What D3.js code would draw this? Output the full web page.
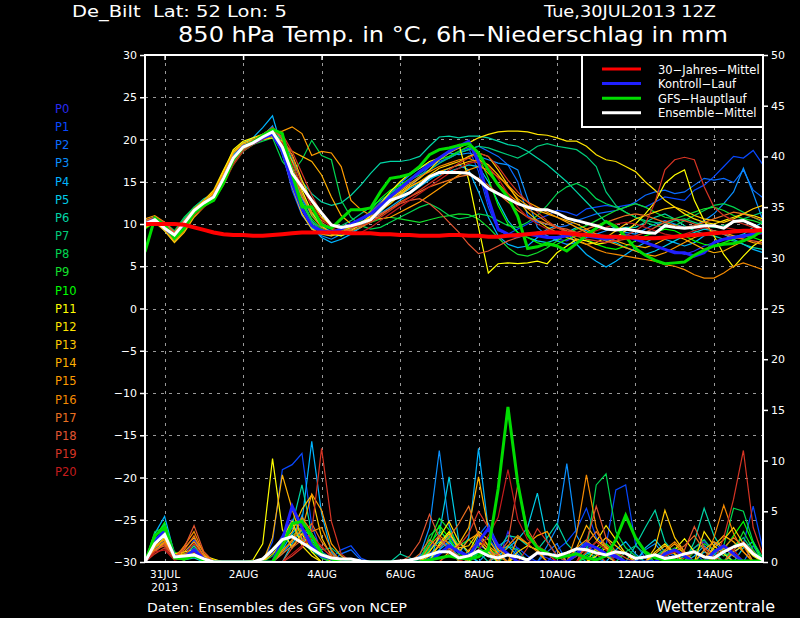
<!DOCTYPE html>
<html>
<head>
<meta charset="utf-8">
<script src="https://cdn.jsdelivr.net/npm/d3@7"></script>
<style>
  body { margin: 0; background: #000; }
  svg text { font-family: "DejaVu Sans", sans-serif; fill: #fff; }
</style>
</head>
<body>
<svg id="chart" width="800" height="618"></svg>
<script>
// run start Tue 30JUL2013 12Z, one value every 6 hours
const hours = d3.range(0, 379, 6);

const dateLabels = ["31JUL", "2AUG", "4AUG", "6AUG", "8AUG", "10AUG", "12AUG", "14AUG"];
const dateHours = [12, 60, 108, 156, 204, 252, 300, 348];
const tempTicks = [-30, -25, -20, -15, -10, -5, 0, 5, 10, 15, 20, 25, 30];
const precipTicks = [0, 5, 10, 15, 20, 25, 30, 35, 40, 45, 50];

const memberNames = ["P0","P1","P2","P3","P4","P5","P6","P7","P8","P9","P10",
  "P11","P12","P13","P14","P15","P16","P17","P18","P19","P20"];
const memberColors = ["#2a2af0","#0848ff","#0a6cff","#0a90ff","#00b4ff","#00cce6","#00d6a6",
  "#00cc7a","#00d650","#12e02c","#00ff00","#ffff00","#ffe400","#ffc800","#ffb000",
  "#ff9c00","#f48a00","#ea7020","#e25430","#d63424","#c41c1c"];

// 850 hPa temperature (°C)
const climTemp = [10.0,10.0,10.0,10.0,9.9,9.6,9.3,9.0, 8.8,8.7,8.7,8.6,8.6,8.7,8.8,8.9,
  9.0,9.0,9.0,9.0,9.0,8.9,8.9,8.9, 8.8,8.8,8.7,8.7,8.6,8.6,8.6,8.7,
  8.7,8.6,8.6,8.5,8.5,8.6,8.7,8.8, 8.9,9.0,9.0,8.9,8.8,8.7,8.6,8.5,
  8.5,8.4,8.4,8.3,8.3,8.4,8.5,8.6, 8.7,8.8,8.9,9.0,9.1,9.2,9.2,9.3];
const meanTemp = [10.0,10.5,9.5,8.7,10.1,11.6,12.5,13.2, 15.4,17.8,19.1,19.6,20.3,20.9,19.1,16.0,
  14.4,12.8,11.3,9.9,9.6,9.8,10.1,10.5, 11.7,12.8,13.2,13.7,14.6,15.6,16.1,16.1,
  16.1,16.0,15.2,14.2,13.6,13.0,12.4,12.0, 11.7,11.7,11.3,10.7,10.4,10.1,9.8,9.4,
  9.3,9.4,9.2,9.0,8.9,9.8,9.6,9.5, 9.6,9.8,9.8,9.5,10.3,10.4,9.9,9.3];
const gfsTemp = [6.7,10.7,9.9,8.3,9.5,11.3,12.2,12.8, 14.8,17.6,19.1,19.7,20.5,21.2,20.7,16.0,
  12.0,12.0,9.9,9.5,10.6,11.7,11.7,11.9, 13.8,15.4,15.6,15.9,16.8,18.2,18.8,19.0,
  19.3,19.5,18.4,16.4,14.6,13.2,10.9,7.1, 7.3,7.7,7.4,6.8,7.7,8.7,9.5,10.3,
  9.7,8.5,7.1,6.3,5.7,5.3,5.4,5.5, 6.3,6.9,7.4,7.6,7.7,8.0,8.5,9.3];
const ctrlTemp = [10.0,10.6,9.6,8.4,9.8,11.4,12.4,13.2, 15.4,17.8,19.2,19.6,20.2,20.6,18.6,14.8,
  11.8,9.8,9.2,9.0,9.4,10.0,10.6,11.2, 12.2,13.2,14.2,15.2,16.2,17.0,17.8,18.6,
  19.2,19.8,17.4,13.0,9.4,8.8,8.6,8.8, 8.6,8.4,8.4,8.6,8.8,8.6,8.4,8.2,
  8.4,8.6,8.2,7.8,7.4,7.0,6.6,6.6, 6.2,6.6,7.8,8.2,8.4,8.6,8.8,9.0];

const tP0 = [10.2,10.6,9.6,8.4,9.8,11.4,12.3,13.0, 15.2,17.6,19.0,19.8,20.4,21.0,19.5,15.2,
  12.6,10.2,9.6,9.2,9.4,9.8,10.2,10.8, 11.8,12.9,13.5,14.2,15.6,16.8,17.6,18.4,
  19.2,19.6,17.0,12.6,9.4,8.6,8.4,8.8, 9.0,8.6,8.2,8.0,8.6,9.0,8.8,8.4,
  8.6,8.8,8.4,7.8,7.4,7.0,6.8,6.4, 6.8,7.4,7.8,8.2,8.6,8.4,8.8,9.0];
const tP1 = [9.8,10.4,9.4,8.2,9.6,11.2,12.4,13.4, 15.8,18.0,19.4,19.8,20.6,21.2,18.6,14.0,
  11.0,9.6,9.0,8.8,9.2,9.8,10.6,11.4, 12.6,13.4,14.0,14.8,15.6,16.4,17.2,18.0,
  18.6,19.0,16.2,12.0,9.2,8.8,9.4,10.0, 10.6,11.0,11.6,11.4,11.0,11.8,12.0,12.2,
  12.0,12.2,12.4,12.0,12.6,13.2,13.0,12.8, 14.0,14.6,15.6,16.8,18.0,17.8,18.7,17.0];
const tP2 = [10.0,10.6,9.8,8.8,10.4,11.8,12.6,13.2, 15.0,17.4,18.8,19.4,20.2,20.8,19.4,16.4,
  13.0,10.4,9.0,8.6,9.0,9.4,9.8,10.6, 11.6,12.8,14.0,15.2,16.0,16.8,17.4,17.8,
  18.4,18.8,19.2,18.6,18.0,17.0,15.0,11.0, 10.2,10.0,9.6,9.8,10.4,10.8,11.2,11.4,
  11.6,12.0,12.6,13.4,13.8,14.0,13.6,13.8, 14.6,15.4,15.2,15.4,14.9,16.4,14.0,13.1];
const tP3 = [10.4,10.8,9.8,8.6,10.0,11.6,12.4,13.0, 15.4,17.8,19.2,19.8,20.4,21.6,18.2,14.4,
  11.2,9.4,8.6,8.2,8.8,9.4,10.2,11.0, 12.2,13.6,14.8,15.8,16.6,17.2,17.8,18.4,
  18.2,18.4,18.0,17.6,17.2,17.0,16.4,13.0, 9.6,8.6,8.0,7.6,7.8,8.4,8.8,9.2,
  9.6,9.0,8.8,9.4,10.0,10.4,10.0,9.6, 9.8,10.4,11.2,12.4,13.8,16.6,13.6,10.4];
const tP4 = [10.0,10.4,9.2,7.9,9.4,11.2,12.2,13.2, 15.6,18.2,19.6,20.2,21.4,22.8,18.8,15.0,
  12.0,9.6,8.4,7.8,8.2,8.8,9.6,10.4, 11.2,12.0,12.8,13.6,14.4,15.2,16.0,16.6,
  17.0,16.4,13.8,10.8,8.6,7.6,7.2,7.4, 8.4,9.4,9.8,9.0,7.6,6.4,5.6,4.9,
  5.6,6.4,7.2,7.8,8.4,8.2,7.8,7.4, 7.8,8.6,9.2,8.8,8.2,7.6,7.0,6.6];
const tP5 = [9.6,10.2,9.6,8.4,9.8,11.6,12.6,13.4, 15.0,17.2,18.6,19.4,20.0,20.6,19.0,15.8,
  13.2,11.0,9.8,9.0,8.6,9.0,9.6,10.4, 11.4,12.6,13.4,14.2,14.8,15.4,15.8,16.2,
  16.6,17.0,16.8,15.0,12.6,10.4,9.0,8.4, 8.0,7.8,8.2,9.0,9.6,9.2,8.6,8.0,
  7.8,7.2,6.8,6.4,6.8,7.4,8.0,8.6, 9.0,9.4,9.2,8.8,8.4,8.8,9.6,10.2];
const tP6 = [10.2,10.8,10.0,9.0,10.6,12.0,13.0,13.6, 15.8,18.4,19.6,20.0,20.6,21.4,20.2,17.6,
  15.0,13.6,12.6,12.2,12.5,13.4,14.6,16.0, 17.2,17.4,17.4,17.6,18.0,19.2,20.3,20.4,
  20.2,20.4,20.4,20.2,19.8,19.4,19.2,18.6, 17.8,17.0,16.0,15.0,13.8,12.6,11.4,10.2,
  9.4,9.6,9.6,10.2,10.8,11.2,10.6,9.8, 9.2,8.8,8.6,8.2,8.0,7.6,7.2,7.0];
const tP7 = [9.8,10.4,9.8,8.8,10.2,11.8,12.8,13.6, 15.6,17.8,19.0,19.6,20.4,21.0,19.8,16.8,
  13.6,11.2,10.0,9.6,9.8,10.4,11.2,12.0, 12.8,13.6,14.4,15.2,15.8,16.4,17.2,17.8,
  18.4,18.8,19.2,19.0,18.6,18.2,17.8,18.4, 19.2,19.5,19.2,19.0,18.8,18.0,16.8,13.8,
  12.2,11.4,10.8,10.4,10.2,10.0,10.4,10.6, 10.2,9.8,9.6,9.8,10.2,10.6,11.0,11.4];
const tP8 = [10.4,10.8,10.2,9.2,10.8,12.0,12.8,13.4, 15.2,17.4,18.8,19.4,19.8,20.2,17.4,16.0,
  17.6,19.9,18.1,17.6,12.8,10.8,9.8,9.4, 9.6,10.2,10.8,11.4,12.0,12.4,11.8,11.0,
  10.6,10.8,11.2,11.0,10.4,9.8,9.6,10.2, 11.0,12.2,13.6,14.4,14.8,14.2,13.0,12.4,
  12.0,11.4,10.8,10.2,9.8,9.6,9.8,10.4, 11.0,11.6,12.2,12.4,12.0,11.4,10.8,10.2];
const tP9 = [10.0,10.6,9.6,8.2,9.6,11.4,12.4,13.2, 15.4,17.6,19.2,19.8,20.4,21.2,19.2,15.6,
  12.4,10.2,9.2,8.8,9.0,9.4,9.8,10.2, 10.6,10.8,10.6,10.4,10.2,10.5,10.8,11.0,
  11.2,11.1,10.6,9.6,8.4,7.2,6.4,6.2, 6.6,7.2,8.0,8.8,9.4,9.8,10.4,11.0,
  11.6,12.0,12.4,12.0,11.4,10.8,10.6,11.0, 11.4,11.8,12.0,11.6,11.0,10.6,10.4,10.0];
const tP10 = [9.4,10.2,9.8,8.6,10.0,11.6,12.6,13.4, 15.0,17.0,18.6,19.4,20.2,20.8,19.0,15.8,
  12.6,10.6,9.4,9.0,9.2,9.6,10.4,11.6, 13.0,14.0,14.6,15.4,16.2,17.0,17.6,18.0,
  18.6,19.2,18.0,15.4,12.2,10.0,9.0,8.4, 7.8,7.4,7.6,8.2,8.6,8.2,7.6,7.2,
  7.0,7.4,8.0,8.6,9.0,9.4,9.2,8.6, 8.0,7.6,7.4,7.8,8.2,8.6,8.4,8.0];
const tP11 = [10.0,10.4,9.4,8.0,9.2,11.0,12.4,13.8, 16.2,18.8,19.8,20.2,20.6,20.8,19.6,17.4,
  14.0,11.4,9.8,8.8,8.6,9.2,10.0,11.0, 12.4,13.8,15.0,16.0,16.6,17.4,17.8,18.6,
  19.4,15.2,9.6,4.2,5.3,5.4,5.3,5.4, 5.6,5.3,6.6,7.4,8.2,8.0,7.6,7.8,
  8.4,9.2,10.0,11.2,12.6,14.8,15.8,16.4, 12.8,10.4,8.6,6.4,4.9,6.2,7.4,8.2];
const tP12 = [10.2,10.6,9.8,8.4,9.8,11.4,12.8,14.0, 16.4,18.6,19.4,19.8,20.0,20.2,19.8,18.2,
  15.2,12.6,10.8,9.8,9.6,10.0,10.6,11.4, 12.2,13.0,13.8,14.6,15.4,16.4,17.6,18.4,
  19.0,19.6,20.2,20.6,20.9,21.0,21.0,20.9, 20.6,20.5,20.2,19.8,19.8,19.2,18.2,17.6,
  17.4,16.8,16.2,15.0,14.0,12.8,12.0,11.2, 10.6,10.2,10.0,10.4,10.8,11.2,11.0,10.6];
const tP13 = [9.6,10.2,9.2,7.8,9.0,10.8,12.0,13.2, 15.6,18.6,19.6,20.0,20.4,20.6,18.4,14.4,
  11.2,9.4,8.8,8.6,9.0,9.6,10.2,10.8, 11.6,12.4,13.4,14.4,15.0,15.8,16.6,17.0,
  17.4,18.0,18.4,18.0,16.4,14.6,12.8,11.4, 10.4,9.6,9.0,8.4,8.0,7.6,7.8,8.4,
  9.2,10.0,10.6,11.0,11.4,11.8,12.0,11.6, 11.0,10.6,10.4,10.2,10.6,11.2,11.8,12.2];
const tP14 = [9.8,10.4,9.6,8.2,9.4,11.0,12.2,13.6, 15.8,18.0,19.2,19.6,20.0,20.4,19.6,18.6,
  18.0,17.4,15.8,13.2,11.0,10.0,9.6,10.4, 11.6,12.8,13.6,14.4,15.0,15.6,16.2,16.6,
  17.0,17.4,17.6,17.0,15.8,14.4,13.0,12.2, 11.6,11.2,10.8,10.4,10.0,9.4,8.8,8.4,
  8.0,7.6,7.4,7.2,7.6,8.2,8.6,8.2, 7.6,7.0,6.6,6.8,7.4,8.0,8.6,9.0];
const tP15 = [10.6,11.0,10.2,9.0,10.4,11.8,12.8,13.8, 16.0,18.4,19.4,19.8,20.4,20.8,21.0,21.5,
  20.7,18.1,18.6,18.4,16.8,12.8,11.7,11.0, 10.6,10.8,11.4,12.0,12.6,13.4,14.2,15.0,
  15.8,16.4,16.8,16.4,15.6,14.6,13.4,12.6, 12.0,11.4,10.8,10.2,9.6,9.0,8.4,8.0,
  7.6,7.2,6.8,6.4,6.2,6.6,7.2,7.8, 8.4,8.8,9.2,9.0,8.6,8.2,7.8,7.6];
const tP16 = [9.6,10.2,9.4,8.0,9.2,11.0,12.4,13.6, 15.6,17.8,19.0,19.6,20.2,20.8,19.2,16.6,
  13.6,11.0,9.6,9.0,9.2,9.8,10.6,11.4, 12.4,13.2,14.0,14.8,15.6,16.2,16.8,17.2,
  17.6,17.8,17.2,16.0,14.8,13.6,12.6,11.8, 11.0,10.2,9.6,9.0,8.2,7.6,7.0,6.6,
  6.4,6.2,6.0,5.8,5.6,5.2,5.0,4.6, 4.0,3.6,3.6,4.2,5.0,5.4,5.0,4.6];
const tP17 = [10.4,10.8,10.0,8.8,10.2,11.6,12.6,13.4, 15.2,17.6,19.0,20.0,20.6,21.4,20.0,16.2,
  13.2,11.4,10.4,9.8,9.4,9.2,9.6,10.2, 11.0,11.8,12.6,13.2,13.8,14.4,14.8,15.2,
  15.6,15.8,15.4,14.6,13.6,12.6,11.6,10.8, 10.4,10.0,9.6,9.2,9.0,9.4,9.8,10.2,
  10.6,11.0,11.2,11.0,10.6,10.2,9.8,9.6, 9.8,10.2,10.6,11.0,11.4,11.2,10.8,10.4];
const tP18 = [10.2,10.8,10.2,9.0,10.4,11.6,12.4,13.0, 14.8,17.2,18.8,19.6,20.2,21.0,20.4,18.0,
  14.8,12.0,10.2,9.4,9.0,9.4,10.0,10.6, 11.2,11.8,12.4,12.8,13.0,12.4,11.4,10.2,
  9.0,7.6,6.5,6.8,7.4,8.0,8.4,8.8, 9.0,9.2,9.6,9.4,9.0,8.6,8.4,8.2,
  8.0,8.2,8.6,9.0,9.6,10.2,10.6,10.4, 10.0,9.6,9.2,8.8,8.4,8.2,8.0,7.8];
const tP19 = [10.0,10.8,10.0,8.6,9.8,11.2,12.2,13.0, 15.0,17.4,19.0,19.8,20.6,21.4,20.6,18.6,
  16.0,13.4,11.2,10.0,9.6,9.6,9.8,10.2, 10.8,11.6,12.4,13.2,14.0,14.8,15.6,16.4,
  17.2,17.8,18.4,18.0,16.8,15.2,13.8,12.6, 11.4,10.4,9.6,9.0,8.6,8.2,8.0,7.8,
  8.0,8.6,9.2,10.0,12.6,16.4,17.6,17.9, 17.6,14.4,12.0,11.0,10.4,10.0,9.6,9.2];
const tP20 = [9.8,10.4,9.6,8.4,9.6,11.0,12.0,12.8, 14.6,17.0,18.6,19.4,20.0,20.6,19.6,17.2,
  14.4,12.2,10.6,9.6,9.0,8.8,9.0,9.6, 10.4,11.2,12.0,12.8,13.6,14.4,15.2,16.0,
  16.6,17.2,17.4,16.8,15.4,13.6,12.0,10.8, 10.0,9.4,9.0,8.8,8.6,8.8,9.2,9.6,
  10.0,10.2,10.0,9.6,9.2,8.8,8.6,8.8, 9.2,9.6,9.8,9.6,9.4,9.2,9.0,8.8];

// 6h precipitation (mm)
const meanPrecip = [0,1.8,2.7,0.5,0.6,0.7,0.3,0, 0,0,0,0,0.3,1.2,2.2,2.5,
  1.9,1.3,0.7,0.4,0.3,0.3,0.1,0, 0,0,0.1,0.2,0.4,0.7,1.0,1.0,
  0.4,0.6,1.1,0.6,0.4,0.7,0.5,0.2, 0.9,0.8,0.6,0.9,1.3,1.2,0.9,0.7,
  1.0,0.85,0.35,0.5,0.7,0.35,0.5,0.8, 1.0,0.5,0.4,1.0,1.5,1.8,0.8,0.2];
const gfsPrecip = [0,2.6,3.4,0.4,0.3,0.6,0.2,0, 0,0,0,0,0,0,1.6,3.8,
  4.0,2.6,0.8,0.3,0,0,0,0, 0,0,0,0,0,0.2,0.4,0.6,
  0.4,0.3,0.5,1.2,7.2,15.3,7.8,2.7, 1.4,0.9,0.4,0.6,0.8,0.4,0.2,0.6,
  2.2,4.6,2.4,1.0,0.4,0.2,0.2,0.1, 0.1,0.1,0.1,0.1,0.1,0.1,0.1,0.1];
const ctrlPrecip = [0,2.0,3.2,0.6,0.4,1.2,0.3,0, 0,0,0,0,0,0,2.2,5.5,
  3.4,1.6,0.6,0.3,0,0,0,0, 0,0,0,0,0,0,0.8,1.6,
  1.0,0.6,2.0,3.3,1.6,0.8,0,0, 0,0,0,0,0.8,1.8,1.4,0.8,
  0.6,0,0,0,0,0.8,1.2,0.6, 0,0,1.0,1.6,0.8,0,0,0];

const rP0 = [0,1.6,2.8,0.6,0.4,1.2,0.3,0, 0,0,0,0,0,1.0,2.6,4.2, 3.0,1.4,0.6,0.3,0,0,0,0,
  0,0,0,0,0.6,1.4,2.2,1.6, 0,0.8,1.6,1.2,0,3.0,1.2,0, 0.8,0.4,0,0,0.8,1.6,1.0,0.6,
  0.4,0,0,0,0.6,1.2,0.8,0, 1.4,2.0,1.2,0.6,1.0,1.6,0.8,0];
const rP1 = [0,2.0,3.4,0.8,0.6,2.2,0.6,0, 0,0,0,0,0,2.0,9.1,9.6, 10.7,3.6,1.0,0.4,1.2,1.6,0.4,0,
  0,0,0,0,0,0.8,1.6,2.4, 0,0,1.8,2.4,1.0,0,1.4,0.6, 0,0,1.2,2.0,3.2,5.3,2.4,1.6,
  7.1,7.6,1.8,0.4,0,0,0,0.6, 1.0,0,0,0,0.8,1.8,5.5,1.2];
const rP2 = [0,1.2,2.2,0.4,0.2,0.8,0.2,0, 0,0,0,0,0,0,1.6,3.4, 2.4,1.2,0.4,0,0.8,1.2,0.2,0,
  0,0,0,0,0,0.4,1.2,2.6, 1.2,0,2.6,3.8,1.6,2.2,0.8,0, 0,1.0,1.8,0,1.2,2.0,1.4,0.8,
  0,0,0,0,0.6,1.0,0.6,0, 0,1.2,2.0,1.0,0,0,1.6,0];
const rP3 = [0,2.4,3.8,0.6,0.3,0.6,0,0, 0,0,0,0,0,0,0.8,2.0, 4.6,2.2,0.8,0,0,0,0,0,
  0,0,0,0,0.6,3.4,11.0,3.6, 1.2,0.6,0,1.0,0.8,0,0,0, 0,1.6,3.4,9.7,2.6,1.0,0.4,0,
  0,0,0,1.2,1.8,0.6,0,0, 0,0,0.8,1.4,0.6,0,0,0];
const rP4 = [0,2.8,4.5,0.8,0.4,1.0,0.2,0, 0,0,0,0,0,0,1.2,2.8, 4.0,11.9,4.8,1.0,0,0,0,0,
  0,0,0,0,0,0,1.2,2.0, 0.8,2.4,11.2,3.2,1.0,1.6,0.6,0, 0,0,0,0,0.6,1.4,0.8,0,
  1.2,2.0,0.8,0,0,0,0,0, 0.6,1.6,0.8,0,0,0,0,0];
const rP5 = [0,2.2,3.2,0.5,0.2,0.4,0,0, 0,0,0,0,0,0,0,1.8, 3.2,2.6,1.0,0,0,0,0,0,
  0,0,0,0,0,0,2.8,8.4, 2.0,0.8,0,0,0.6,1.4,2.2,3.4, 6.8,2.0,0.6,0,0,0.8,1.2,0.6,
  0,0,0,1.4,2.2,1.0,0,0, 0,1.0,0.6,0,0,1.4,2.0,0];
const rP6 = [0,1.8,2.6,0.4,0.6,1.6,0.4,0, 0,0,0,0,0,0,1.4,3.6, 7.6,2.8,0.8,0.5,0.3,0,0,0,
  0,0,0.8,0.4,0,1.2,2.0,1.4, 0.6,0,1.0,0,1.2,2.6,2.4,1.6, 1.2,2.4,3.8,1.8,0.8,0,0,0,
  0,0,1.6,3.4,5.1,2.0,0.8,0, 2.0,5.3,2.6,1.0,0,0,0,0];
const rP7 = [0,2.6,3.6,0.6,0.3,0.8,0.2,0, 0,0,0,0,0,0,2.0,4.0, 3.0,1.6,1.2,1.4,0.6,0,0,0,
  0,0,0,0,0.4,1.8,3.0,2.2, 1.0,0.6,1.2,0.8,0,1.6,1.2,0, 0,0,0,0,0,0.4,1.0,0.8,
  0,1.0,1.6,0.8,0,0,0,0.6, 1.4,2.2,1.0,0,1.6,2.4,1.0,0];
const rP8 = [0,3.0,3.4,0.8,0.5,1.4,0.3,0, 0,0,0,0,0,0.6,2.4,3.6, 2.0,1.0,0.6,0,0,0,0,0,
  0,0,0,0,0,2.6,3.4,1.6, 0,0,1.2,0.8,0,0.8,0,0, 0,0,0,0,0,1.0,7.6,8.7,
  3.0,1.4,0.6,0,0,0,0,0, 0,0,0.8,1.6,5.3,5.0,2.0,0.4];
const rP9 = [0,2.0,3.0,0.4,0.2,0.6,0,0, 0,0,0,0,0,0,1.8,2.6, 3.4,1.8,0.4,0,0,0,0,0,
  0,0,0,0,0,2.0,4.3,3.2, 1.6,2.2,1.4,0.8,0,0,0,0, 0,0,0,0,0,0,0.8,1.6,
  1.0,0,0,0,0.6,1.2,0.8,0, 1.0,1.8,1.2,0.6,1.0,3.0,1.2,0];
const rP10 = [0,2.4,3.9,1.0,0.4,0.9,0.2,0, 0,0,0,0,0,0,2.4,3.8, 4.2,2.0,0.5,0,0,0,0,0,
  0,0,0,0,0,1.4,3.6,2.4, 0.8,0,0.8,1.4,0.6,0,0,0, 0,0,0,0,0,0.6,1.2,1.8,
  1.0,0,0,0,0,0.8,1.4,1.0, 0,0,0,1.2,2.6,4.0,1.8,0];
const rP11 = [0,1.4,2.4,0.8,1.0,1.2,0.6,0.3, 0,0,0,0.2,1.8,10.2,3.2,1.4, 2.8,1.0,0,0,0,0,0,0,
  0,0,0,0,0,0,1.8,3.0, 1.2,0,2.0,1.0,0,0,0.6,0, 0,0,0,0,0,0,0.6,1.4,
  0.8,0,0,0,0,0.6,1.2,2.3, 1.0,0.6,0,0,1.0,1.6,0.6,0];
const rP12 = [0,1.0,2.0,0.6,0.8,0.6,0.3,0, 0,0,0,0,0,1.2,2.4,4.0, 1.6,0.6,0,0,0,0,0,0,
  0,0,0,0,0,1.0,2.4,4.0, 2.0,1.0,2.8,1.6,0,0,0,0, 0,0,0,0,0,1.0,2.0,3.6,
  2.2,0.8,0,0,1.0,1.8,0.8,0, 0,3.0,1.6,0.8,0,0,0,0];
const rP13 = [0,1.8,2.6,0.4,0.2,0.8,0.4,0.2, 0,0,0,0,0,0.8,1.8,3.0, 5.2,6.6,2.4,0.6,0,0,0,0,
  0,0,0,0,0,0.6,1.6,2.8, 1.4,1.6,3.0,2.2,0.8,0,1.0,1.6, 1.2,0,0,0,0,0,1.4,2.4,
  1.6,0.8,0,0,1.4,5.1,2.4,1.0, 0,0,1.4,2.2,3.4,1.8,0,0];
const rP14 = [0,1.2,1.8,0.6,1.4,2.4,1.0,0, 0,0,0,0,0,2.4,8.6,5.2, 2.2,1.4,0.8,0,0,0,0,0,
  0,0,0,0,0,0,0,1.0, 1.8,3.4,8.4,3.2,1.2,0.6,0,0, 0,0,0,0,1.4,3.6,2.2,1.4,
  0.6,0,0,0,0.8,1.6,0.8,0, 0,0,1.6,2.6,2.0,1.0,0,0];
const rP15 = [0,1.6,2.2,0.4,1.0,2.0,0.6,0, 0,0,0,0,0,0,1.0,2.2, 3.2,6.7,5.1,1.8,0.6,0,0,0,
  0,0,0,0,0,0,0.8,1.4, 1.0,2.2,2.8,1.6,0.8,0,2.4,1.8, 2.6,3.0,1.2,0,1.4,2.2,1.2,0.6,
  0,0,0,0,0,1.0,1.8,0.8, 0,1.2,2.0,1.4,0.6,0,0,0];
const rP16 = [0,1.4,2.0,0.3,1.6,3.0,0.8,0, 0,0,0,0,0,0,1.2,2.0, 4.4,3.0,3.4,1.2,0,0,0,0,
  0,0,0,0,0,1.6,2.6,1.8, 0,1.2,2.0,1.4,0,1.6,2.6,1.8, 1.0,0,0,0,2.8,8.6,3.4,1.2,
  0.6,0,0,0,0,1.2,2.0,1.0, 0,0,2.4,5.6,2.8,1.0,0,0];
const rP17 = [0,1.2,1.6,0.5,1.2,2.6,0.4,0, 0,0,0,0,0,0,0.8,1.6, 2.6,3.8,2.0,0.8,0,0,0,0,
  0,0,0,0,0.8,2.2,1.4,2.4, 3.8,5.5,2.6,1.2,0.6,0,0,0, 0,0,0,0,0,1.8,3.0,1.6,
  0.8,0,0,0,0,0.6,1.0,1.6, 2.6,1.2,0,1.4,2.4,1.6,0,0];
const rP18 = [0,1.0,1.8,0.4,1.4,3.6,1.0,0, 0,0,0,0,0,0,0,1.4, 2.2,2.8,1.4,0.6,0,0,0,0,
  0,0,0,0.6,2.0,4.7,2.4,1.2, 0.6,0,0,0,0.8,2.0,7.6,3.2, 1.6,0.8,0,0,0,2.0,5.5,2.4,
  1.0,0.4,0,0,0,0,0,1.2, 3.5,1.4,0.6,0,1.2,2.0,1.0,0];
const rP19 = [0,0.8,1.4,0.3,0.6,1.8,0.4,0, 0,0,0,0,0,0,0,0.6, 1.4,3.0,11.2,4.0,0.8,0,0,0,
  0,0,0,0,0,0,0,0.8, 1.6,2.8,5.0,3.4,1.4,0.8,0,1.4, 3.3,2.0,0.6,0,0.6,1.2,0.8,0,
  0,0,0,0,0,0,0,0.4, 1.0,0.6,0,2.4,6.2,11.0,3.4,0.6];
const rP20 = [0,1.0,1.2,0.2,0.4,1.0,0.2,0, 0,0,0,0,0,0,0,0.8, 1.6,2.4,1.6,0.4,0,0,0,0,
  0,0,0,0,0,0,0,0, 0,0.6,1.2,2.6,4.4,9.1,4.2,2.2, 1.6,1.0,0,0,0,1.0,2.0,1.2,
  0,0,0,0,0,0.6,1.0,0.6, 0,0,1.0,1.6,1.2,0,0,0];

const memberTemp = [tP0,tP1,tP2,tP3,tP4,tP5,tP6,tP7,tP8,tP9,tP10,tP11,tP12,tP13,tP14,tP15,tP16,tP17,tP18,tP19,tP20];
const memberPrecip = [rP0,rP1,rP2,rP3,rP4,rP5,rP6,rP7,rP8,rP9,rP10,rP11,rP12,rP13,rP14,rP15,rP16,rP17,rP18,rP19,rP20];

const legendItems = ["30\u2212Jahres\u2212Mittel", "Kontroll\u2212Lauf", "GFS\u2212Hauptlauf", "Ensemble\u2212Mittel"];
const legendColors = ["#ff0000", "#2020ff", "#00dd00", "#ffffff"];

const plotL = 145, plotR = 763, plotT = 55, plotB = 562;

const svg = d3.select("#chart");
svg.append("rect").attr("width", 800).attr("height", 618).attr("fill", "#000");

const x = d3.scaleLinear().domain([0, 378]).range([plotL, plotR]);
const yT = d3.scaleLinear().domain([-30, 30]).range([plotB, plotT]);
const yP = d3.scaleLinear().domain([0, 50]).range([plotB, plotT]);

svg.append("clipPath").attr("id", "plot")
    .append("rect").attr("x", plotL).attr("y", plotT)
    .attr("width", plotR - plotL).attr("height", plotB - plotT);

// grid
const grid = svg.append("g")
    .attr("stroke", "#9a9a9a")
    .attr("stroke-width", 1)
    .attr("stroke-dasharray", "3,5");
grid.selectAll("line.h")
    .data(tempTicks.filter(d => d > -30 && d < 30))
    .join("line")
    .attr("x1", plotL).attr("x2", plotR)
    .attr("y1", d => Math.round(yT(d)) + 0.5).attr("y2", d => Math.round(yT(d)) + 0.5);
grid.selectAll("line.v")
    .data(dateHours)
    .join("line")
    .attr("y1", plotT).attr("y2", plotB)
    .attr("x1", d => Math.round(x(d)) + 0.5).attr("x2", d => Math.round(x(d)) + 0.5);

const plot = svg.append("g").attr("clip-path", "url(#plot)")
    .attr("fill", "none")
    .attr("stroke-linejoin", "miter");

const tLine = d3.line().x((d, i) => x(hours[i])).y(d => yT(d));
const pLine = d3.line().x((d, i) => x(hours[i])).y(d => yP(d));

// ensemble members: temperature and precipitation
plot.selectAll("path.mt")
    .data(memberTemp)
    .join("path")
    .attr("class", "mt")
    .attr("d", tLine)
    .attr("stroke", (d, i) => memberColors[i])
    .attr("stroke-width", 1.2);
plot.selectAll("path.mp")
    .data(memberPrecip)
    .join("path")
    .attr("class", "mp")
    .attr("d", pLine)
    .attr("stroke", (d, i) => memberColors[i])
    .attr("stroke-width", 1.2);

// thick lines
plot.append("path").attr("d", tLine(ctrlTemp)).attr("stroke", "#2020ff").attr("stroke-width", 3);
plot.append("path").attr("d", pLine(ctrlPrecip)).attr("stroke", "#2020ff").attr("stroke-width", 3);
plot.append("path").attr("d", tLine(gfsTemp)).attr("stroke", "#00dd00").attr("stroke-width", 3);
plot.append("path").attr("d", pLine(gfsPrecip)).attr("stroke", "#00dd00").attr("stroke-width", 3);
plot.append("path").attr("d", tLine(meanTemp)).attr("stroke", "#ffffff").attr("stroke-width", 3);
plot.append("path").attr("d", pLine(meanPrecip)).attr("stroke", "#ffffff").attr("stroke-width", 3);
plot.append("path").attr("d", tLine(climTemp)).attr("stroke", "#ff0000").attr("stroke-width", 4);

// frame
svg.append("rect")
    .attr("x", plotL).attr("y", plotT)
    .attr("width", plotR - plotL).attr("height", plotB - plotT)
    .attr("fill", "none").attr("stroke", "#fff").attr("stroke-width", 2);

// axes
const axL = svg.append("g").attr("transform", `translate(${plotL},0)`)
    .call(d3.axisLeft(yT).tickValues(tempTicks).tickSize(5).tickPadding(3));
const axR = svg.append("g").attr("transform", `translate(${plotR},0)`)
    .call(d3.axisRight(yP).tickValues(precipTicks).tickSize(5).tickPadding(3));
const axB = svg.append("g").attr("transform", `translate(0,${plotB})`)
    .call(d3.axisBottom(x).tickValues(dateHours).tickFormat((d, i) => dateLabels[i]).tickSize(0).tickPadding(9));
const axT = svg.append("g").attr("transform", `translate(0,${plotT})`)
    .call(d3.axisTop(x).tickValues(dateHours).tickFormat("").tickSize(-5));
[axL, axR, axB, axT].forEach(a => {
  a.select(".domain").remove();
  a.selectAll(".tick line").attr("stroke", "#fff").attr("stroke-width", 1.5);
  a.selectAll("text").attr("fill", "#fff")
    .style("font-family", "'DejaVu Sans', sans-serif")
    .style("font-size", "11px");
});
axB.selectAll("text").style("font-size", "10.5px");
svg.append("text").attr("x", x(dateHours[0])).attr("y", 591)
    .attr("text-anchor", "middle").style("font-size", "10.5px").text("2013");

// header and footer
svg.append("text").attr("x", 72).attr("y", 17).style("font-size", "15px")
    .style("white-space", "pre").attr("textLength", 215).attr("lengthAdjust", "spacingAndGlyphs")
    .text("De_Bilt  Lat: 52 Lon: 5");
svg.append("text").attr("x", 544).attr("y", 17).style("font-size", "15px")
    .attr("textLength", 172).attr("lengthAdjust", "spacingAndGlyphs")
    .text("Tue,30JUL2013 12Z");
svg.append("text").attr("x", 178).attr("y", 42).style("font-size", "22px")
    .attr("textLength", 550).attr("lengthAdjust", "spacingAndGlyphs")
    .text("850 hPa Temp. in \u00B0C, 6h\u2212Niederschlag in mm");
svg.append("text").attr("x", 147).attr("y", 612).style("font-size", "13px")
    .attr("textLength", 260).attr("lengthAdjust", "spacingAndGlyphs")
    .text("Daten: Ensembles des GFS von NCEP");
svg.append("text").attr("x", 656).attr("y", 612).style("font-size", "15px")
    .attr("textLength", 119).attr("lengthAdjust", "spacingAndGlyphs")
    .text("Wetterzentrale");

// member labels
svg.selectAll("text.member")
    .data(memberNames)
    .join("text")
    .attr("class", "member")
    .attr("x", 55)
    .attr("y", (d, i) => 113 + i * 18.16)
    .style("font-size", "11.5px")
    .style("fill", (d, i) => memberColors[i])
    .text(d => d);

// legend
const legend = svg.append("g");
legend.append("rect")
    .attr("x", 582).attr("y", plotT).attr("width", plotR - 582).attr("height", 72)
    .attr("fill", "#000").attr("stroke", "#fff").attr("stroke-width", 2);
const items = legend.selectAll("g.item")
    .data(legendItems)
    .join("g")
    .attr("class", "item")
    .attr("transform", (d, i) => `translate(0,${69 + i * 14.6})`);
items.append("line")
    .attr("x1", 602).attr("x2", 641)
    .attr("stroke", (d, i) => legendColors[i]).attr("stroke-width", 3);
items.append("text")
    .attr("x", 658).attr("y", 4.5)
    .style("font-size", "11.5px")
    .text(d => d);
</script>
</body>
</html>
